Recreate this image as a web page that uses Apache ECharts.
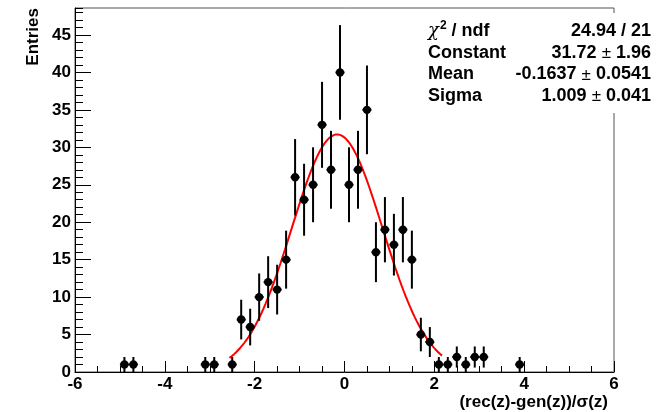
<!DOCTYPE html>
<html>
<head>
<meta charset="utf-8">
<script src="https://cdn.jsdelivr.net/npm/echarts@6/dist/echarts.min.js"></script>
<style>
html,body{margin:0;padding:0;background:#fff;}
#chart{width:668px;height:412px;}
</style>
</head>
<body>
<div id="chart"></div>
<script>
// ---- data ----
const binCenters = [-4.9,-4.7,-3.1,-2.9,-2.5,-2.3,-2.1,-1.9,-1.7,-1.5,-1.3,-1.1,-0.9,-0.7,-0.5,-0.3,-0.1,0.1,0.3,0.5,0.7,0.9,1.1,1.3,1.5,1.7,1.9,2.1,2.3,2.5,2.7,2.9,3.1,3.9];
const entries    = [1,1,1,1,1,7,6,10,12,11,15,26,23,25,33,27,40,25,27,35,16,19,17,19,15,5,4,1,1,2,1,2,2,1];
const errors     = [1,1,1,1,1,2.65,2.45,3.16,3.46,3.32,3.87,5.10,4.80,5.00,5.74,5.20,6.32,5.00,5.20,5.92,4.00,4.36,4.12,4.36,3.87,2.24,2.00,1,1,1.41,1,1.41,1.41,1];
const binHalfWidth = 0.1;
// Gaussian fit: constant, mean, sigma ; drawn over fit range
const fitParams = [31.72, -0.1637, 1.009];
const fitRange  = [-2.56, 2.17];
const xTicks = [-6,-4,-2,0,2,4,6];
const yMax = 48.6;
const statsNames  = ['{g|χ}{s|2}{b| / ndf}','{b|Constant}','{b|Mean}','{b|Sigma}'];
const statsValues = ['{b|24.94 / 21}','{b|31.72 }{p|±}{b| 1.96}','{b|-0.1637 }{p|±}{b| 0.0541}','{b|1.009 }{p|±}{b| 0.041}'];
const xTitle = '(rec(z)-gen(z))/σ(z)';
const yTitle = 'Entries';

// ---- build ----
const FONT = '"Liberation Sans", Arial, Helvetica, sans-serif';
const pts = binCenters.map((x,i)=>[x, entries[i], errors[i]]);
const fitLine = [];
const nFit = 100;
for (let i=0;i<=nFit;i++){
  const x = fitRange[0] + (fitRange[1]-fitRange[0])*i/nFit;
  const z = (x - fitParams[1])/fitParams[2];
  fitLine.push([x, fitParams[0]*Math.exp(-0.5*z*z)]);
}

const chart = echarts.init(document.getElementById('chart'), null, {renderer:'canvas'});
const labelStyle = {color:'#000', fontFamily:FONT, fontWeight:'bold', fontSize:17};
const rich = {
  b:{fontFamily:FONT, fontWeight:'bold', fontSize:18, color:'#000', lineHeight:20, verticalAlign:'bottom'},
  g:{fontFamily:'"DejaVu Serif", serif', fontStyle:'italic', fontSize:18, color:'#000', lineHeight:20, verticalAlign:'bottom'},
  s:{fontFamily:FONT, fontWeight:'bold', fontSize:12, color:'#000', lineHeight:20, verticalAlign:'top', padding:[0,0,0,1]},
  p:{fontFamily:FONT, fontWeight:'normal', fontSize:17, color:'#000', lineHeight:20, verticalAlign:'bottom'}
};

const option = {
  animation:false,
  backgroundColor:'#fff',
  grid:{left:75, top:8, width:539, height:364, show:true, borderColor:'#555', borderWidth:1, backgroundColor:'transparent'},
  xAxis:[
    {type:'value', min:-6, max:6, interval:2, position:'bottom',
     axisLine:{show:true, onZero:false, lineStyle:{color:'#000', width:1}},
     axisTick:{show:true, inside:true, length:11, lineStyle:{color:'#000', width:1}},
     axisLabel:Object.assign({margin:4, formatter:v=> xTicks.includes(v)? String(v):''}, labelStyle),
     splitLine:{show:false}},
    {type:'value', min:-6, max:6, interval:0.5, position:'bottom', gridIndex:0,
     axisLine:{show:false, onZero:false},
     axisTick:{show:true, inside:true, length:6, lineStyle:{color:'#000', width:1}},
     axisLabel:{show:false}, splitLine:{show:false}}
  ],
  yAxis:[
    {type:'value', min:0, max:yMax, interval:5, position:'left',
     axisLine:{show:true, onZero:false, lineStyle:{color:'#000', width:1}},
     axisTick:{show:true, inside:true, length:16, lineStyle:{color:'#000', width:1}},
     axisLabel:Object.assign({margin:4, showMaxLabel:false, formatter:v=> (v%5===0)? String(v):''}, labelStyle),
     splitLine:{show:false}},
    {type:'value', min:0, max:yMax, interval:1, position:'left',
     axisLine:{show:false, onZero:false},
     axisTick:{show:true, inside:true, length:8, lineStyle:{color:'#000', width:1}},
     axisLabel:{show:false}, splitLine:{show:false}}
  ],
  series:[
    {type:'line', data:fitLine, xAxisIndex:0, yAxisIndex:0, showSymbol:false, symbol:'none',
     lineStyle:{color:'#ff0000', width:2}, z:3, silent:true},
    {type:'custom', data:pts, xAxisIndex:0, yAxisIndex:0, z:4, silent:true,
     renderItem:function(params, api){
       const x=api.value(0), y=api.value(1), e=api.value(2);
       const c=api.coord([x,y]);
       const lo=api.coord([x, Math.max(0,y-e)]);
       const hi=api.coord([x, y+e]);
       const l=api.coord([x-binHalfWidth, y]);
       const r=api.coord([x+binHalfWidth, y]);
       return {type:'group', children:[
         {type:'line', shape:{x1:c[0],y1:lo[1],x2:c[0],y2:hi[1]}, style:{stroke:'#000', lineWidth:2}},
         {type:'line', shape:{x1:l[0],y1:c[1],x2:r[0],y2:c[1]}, style:{stroke:'#000', lineWidth:2}},
         {type:'circle', shape:{cx:c[0],cy:c[1],r:4.2}, style:{fill:'#000'}}
       ]};
     }}
  ],
  graphic:[
    {type:'rect', z:100, shape:{x:418, y:13, width:250, height:100}, style:{fill:'#fff'}},
    ...statsNames.map((t,i)=>({type:'text', z:101, x:428, y:30+i*21.7,
      style:{text:t, rich:rich, align:'left', verticalAlign:'middle'}})),
    ...statsValues.map((t,i)=>({type:'text', z:101, x:651, y:30+i*21.7,
      style:{text:t, rich:rich, align:'right', verticalAlign:'middle'}})),
    {type:'text', z:101, x:608, y:402, style:{text:xTitle, align:'right', verticalAlign:'middle', fill:'#000', font:'bold 17px '+FONT}},
    {type:'text', z:101, x:33, y:8, rotation:Math.PI/2, style:{text:yTitle, align:'right', verticalAlign:'middle', fill:'#000', font:'bold 17px '+FONT}}
  ]
};
chart.setOption(option);
</script>
</body>
</html>
